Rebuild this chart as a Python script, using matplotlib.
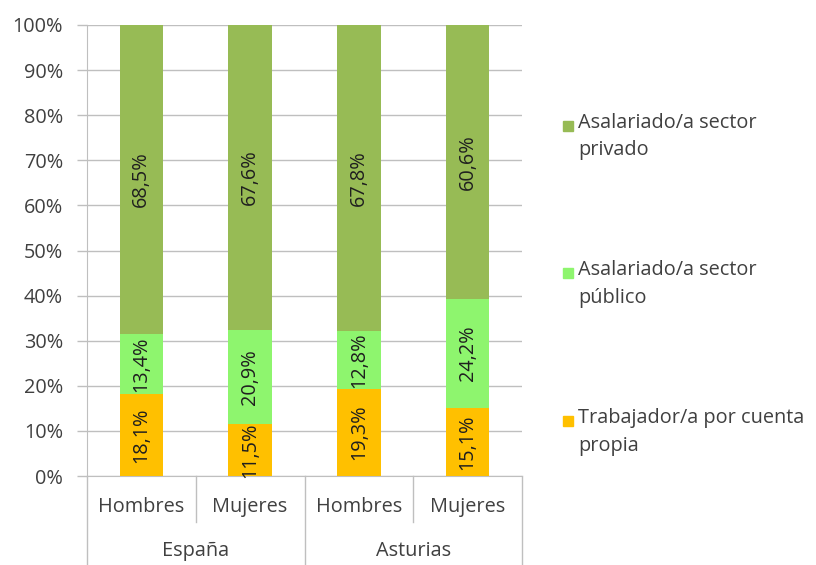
import matplotlib
matplotlib.use("Agg")
import matplotlib.pyplot as plt
from matplotlib.patches import Rectangle

plt.rcParams['font.family'] = ['Open Sans', 'DejaVu Sans']

groups = ["España", "Asturias"]
subcats = ["Hombres", "Mujeres", "Hombres", "Mujeres"]
series_names = ["Trabajador/a por cuenta\npropia", "Asalariado/a sector\npúblico", "Asalariado/a sector\nprivado"]
propia = [18.1, 11.5, 19.3, 15.1]
publico = [13.4, 20.9, 12.8, 24.2]
privado = [68.5, 67.6, 67.8, 60.6]
yticks = [0, 10, 20, 30, 40, 50, 60, 70, 80, 90, 100]

colors = ["#FFC000", "#8EF56E", "#97BB55"]
textc = "#404040"
gridc = "#BFBFBF"
fs = 14.3

fig = plt.figure(figsize=(8.16, 5.65), dpi=100)
L, R, T, B = 87, 522, 25, 476
ax = fig.add_axes([L/816, 1-B/565, (R-L)/816, (B-T)/565])

x = list(range(len(subcats)))
bottom = [0]*4
for vals, col in zip([propia, publico, privado], colors):
    ax.bar(x, vals, bottom=bottom, width=0.40, color=col, zorder=3)
    for xi, v, b in zip(x, vals, bottom):
        ax.text(xi, b + v/2, f"{v:.1f}%".replace(".", ","), rotation=90,
                ha="center", va="center", fontsize=fs, color="#1f1f1f", zorder=4)
    bottom = [b + v for b, v in zip(bottom, vals)]

ax.set_xlim(-0.5, 3.5)
ax.set_ylim(0, 100)
ax.set_yticks(yticks)
ax.set_yticklabels([f"{t}%" for t in yticks], fontsize=fs, color=textc)
ax.tick_params(axis='y', length=7.2, width=1.0, color=gridc, pad=10)
ax.tick_params(axis='x', length=0, labelbottom=False)
ax.yaxis.grid(True, color=gridc, linewidth=1.0, zorder=0)
for s in ["top", "right"]:
    ax.spines[s].set_visible(False)
ax.spines["left"].set_color(gridc)
ax.spines["bottom"].set_color(gridc)

# multi-level category axis
axh = float(B - T)
for xi, lab in zip(x, subcats):
    ax.text(xi, -(507-B)/axh, lab, transform=ax.get_xaxis_transform(),
            ha="center", va="center", fontsize=fs, color=textc)
for gi, g in enumerate(groups):
    ax.text(gi*2 + 0.5, -(551-B)/axh, g, transform=ax.get_xaxis_transform(),
            ha="center", va="center", fontsize=fs, color=textc)
low = -(566-B)/axh
short = -(522-B)/axh
for xv, y0 in [(-0.5, low), (0.5, short), (1.5, low), (2.5, short), (3.5, low)]:
    ax.plot([xv, xv], [0, y0], transform=ax.get_xaxis_transform(), color=gridc,
            linewidth=1.0, clip_on=False)

# legend
leg_y = [126, 273, 421]
for name, col, yy in zip(series_names[::-1], colors[::-1], leg_y):
    fig.patches.append(Rectangle((563/816, 1-(yy+5)/565), 10/816, 10/565,
                                 transform=fig.transFigure, color=col))
    fig.text(578/816, 1-(yy-13)/565, name, ha="left", va="top", fontsize=fs,
             color=textc, linespacing=1.5)

fig.savefig("out.png", dpi=100)
